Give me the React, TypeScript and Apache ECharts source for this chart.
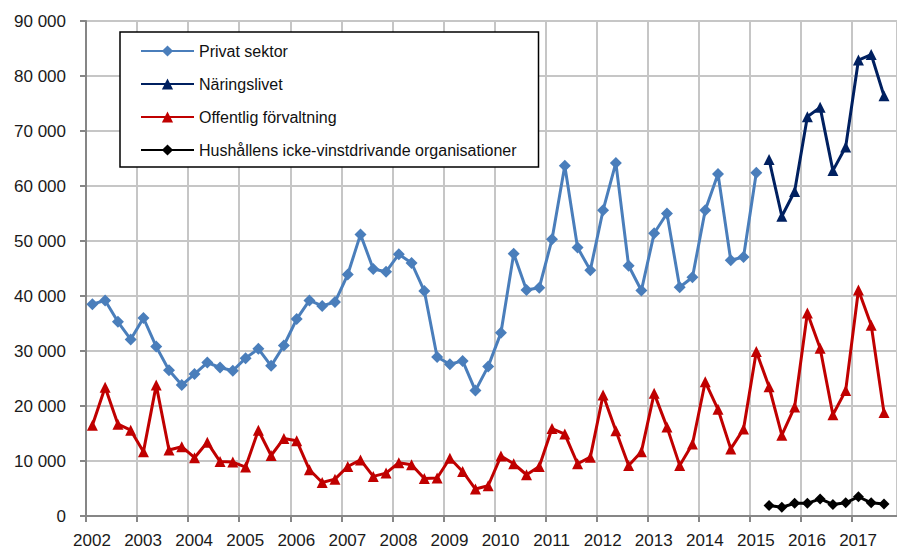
import React, { useEffect, useRef } from "react";
import * as echarts from "echarts";

const firstYear = 2002;
const yearTicks = [2002, 2003, 2004, 2005, 2006, 2007, 2008, 2009, 2010, 2011, 2012, 2013, 2014, 2015, 2016, 2017];

// Quarterly values, Privat sektor: 2002K1 .. 2015K1
const privatSektor = [
  38500, 39200, 35300, 32100,
  36000, 30800, 26500, 23800,
  25800, 27900, 27000, 26400,
  28700, 30400, 27300, 31000,
  35800, 39200, 38200, 38900,
  43900, 51200, 44900, 44400,
  47600, 46000, 40900, 28900,
  27600, 28200, 22800, 27200,
  33300, 47700, 41100, 41500,
  50300, 63700, 48800, 44700,
  55600, 64200, 45500, 41000,
  51400, 55000, 41600, 43400,
  55600, 62200, 46500, 47100,
  62400,
];
const privatStart = 0; // quarter index of first value

// Näringslivet: 2015K2 .. 2017K3
const naringslivet = [64800, 54500, 59000, 72600, 74300, 62800, 67100, 82900, 83900, 76400];
const naringslivetStart = 53;

// Offentlig förvaltning: 2002K1 .. 2017K3
const offentlig = [
  16500, 23400, 16700, 15600,
  11700, 23800, 12000, 12600,
  10600, 13400, 9900, 9800,
  8900, 15600, 11000, 14100,
  13700, 8400, 6100, 6700,
  9000, 10200, 7200, 7800,
  9700, 9300, 6800, 6900,
  10500, 8100, 4900, 5500,
  10900, 9500, 7500, 9000,
  15900, 14900, 9500, 10700,
  22000, 15500, 9200, 11700,
  22300, 16200, 9200, 13100,
  24400, 19400, 12200, 15800,
  29900, 23500, 14700, 19800,
  36900, 30500, 18400, 22800,
  41100, 34700, 18800,
];
const offentligStart = 0;

// Hushållens icke-vinstdrivande organisationer: 2015K2 .. 2017K3
const hushallens = [1900, 1600, 2300, 2300, 3100, 2100, 2400, 3500, 2400, 2200];
const hushallensStart = 53;

const seriesNames = [
  "Privat sektor",
  "Näringslivet",
  "Offentlig förvaltning",
  "Hushållens icke-vinstdrivande organisationer",
];

const toPoints = (vals: number[], start: number) =>
  vals.map((v, i) => [firstYear + (start + i + 0.5) / 4, v]);

const fmtThousands = (v: number) =>
  String(v).replace(/\B(?=(\d{3})+(?!\d))/g, " ");

export default function App() {
  const ref = useRef<HTMLDivElement>(null);
  useEffect(() => {
    if (!ref.current) return;
    const chart = echarts.init(ref.current, undefined, { renderer: "svg" });
    const font = "Liberation Sans, Arial, sans-serif";
    const gridColor = "#c6c6c6";
    const axisColor = "#868686";
    chart.setOption({
      animation: false,
      backgroundColor: "#ffffff",
      textStyle: { fontFamily: font },
      grid: { left: 86, right: 0, top: 21, bottom: 36, containLabel: false },
      legend: {
        orient: "vertical",
        left: 120,
        top: 32,
        padding: [11, 22, 9, 20],
        itemWidth: 53,
        itemHeight: 14,
        itemGap: 17,
        borderColor: "#000000",
        borderWidth: 1.5,
        backgroundColor: "#ffffff",
        textStyle: { fontFamily: font, fontSize: 16, color: "#111111" },
        data: seriesNames,
      },
      xAxis: {
        type: "value",
        min: yearTicks[0],
        max: 2017.88,
        interval: 1,
        axisLine: { show: true, lineStyle: { color: axisColor, width: 2 } },
        axisTick: { show: true, length: 6, lineStyle: { color: axisColor, width: 2 } },
        splitLine: { show: true, lineStyle: { color: gridColor, width: 2 } },
        axisLabel: {
          fontFamily: font,
          fontSize: 17,
          color: "#1a1a1a",
          margin: 16,
          padding: [0, 0, 0, 12],
          showMaxLabel: false,
          formatter: (v: number) => (yearTicks.includes(v) ? String(v) : ""),
        },
      },
      yAxis: {
        type: "value",
        min: 0,
        max: 90000,
        interval: 10000,
        axisLine: { show: true, lineStyle: { color: axisColor, width: 2 } },
        axisTick: { show: true, length: 6, lineStyle: { color: axisColor, width: 2 } },
        splitLine: { show: true, lineStyle: { color: gridColor, width: 2 } },
        axisLabel: {
          fontFamily: font,
          fontSize: 17,
          color: "#1a1a1a",
          margin: 20,
          formatter: (v: number) => fmtThousands(v),
        },
      },
      series: [
        {
          name: seriesNames[0],
          type: "line",
          data: toPoints(privatSektor, privatStart),
          symbol: "diamond",
          symbolSize: 12,
          lineStyle: { color: "#4a7ebb", width: 3 },
          itemStyle: { color: "#4a7ebb" },
        },
        {
          name: seriesNames[1],
          type: "line",
          data: toPoints(naringslivet, naringslivetStart),
          symbol: "triangle",
          symbolSize: 11,
          lineStyle: { color: "#002060", width: 3 },
          itemStyle: { color: "#002060" },
        },
        {
          name: seriesNames[2],
          type: "line",
          data: toPoints(offentlig, offentligStart),
          symbol: "triangle",
          symbolSize: 11,
          lineStyle: { color: "#c00000", width: 3 },
          itemStyle: { color: "#c00000" },
        },
        {
          name: seriesNames[3],
          type: "line",
          data: toPoints(hushallens, hushallensStart),
          symbol: "diamond",
          symbolSize: 11,
          lineStyle: { color: "#000000", width: 3 },
          itemStyle: { color: "#000000" },
        },
      ],
    });
    return () => chart.dispose();
  }, []);
  return (
    <div
      ref={ref}
      style={{ position: "fixed", left: 0, top: 0, width: 897, height: 552, background: "#fff" }}
    />
  );
}
